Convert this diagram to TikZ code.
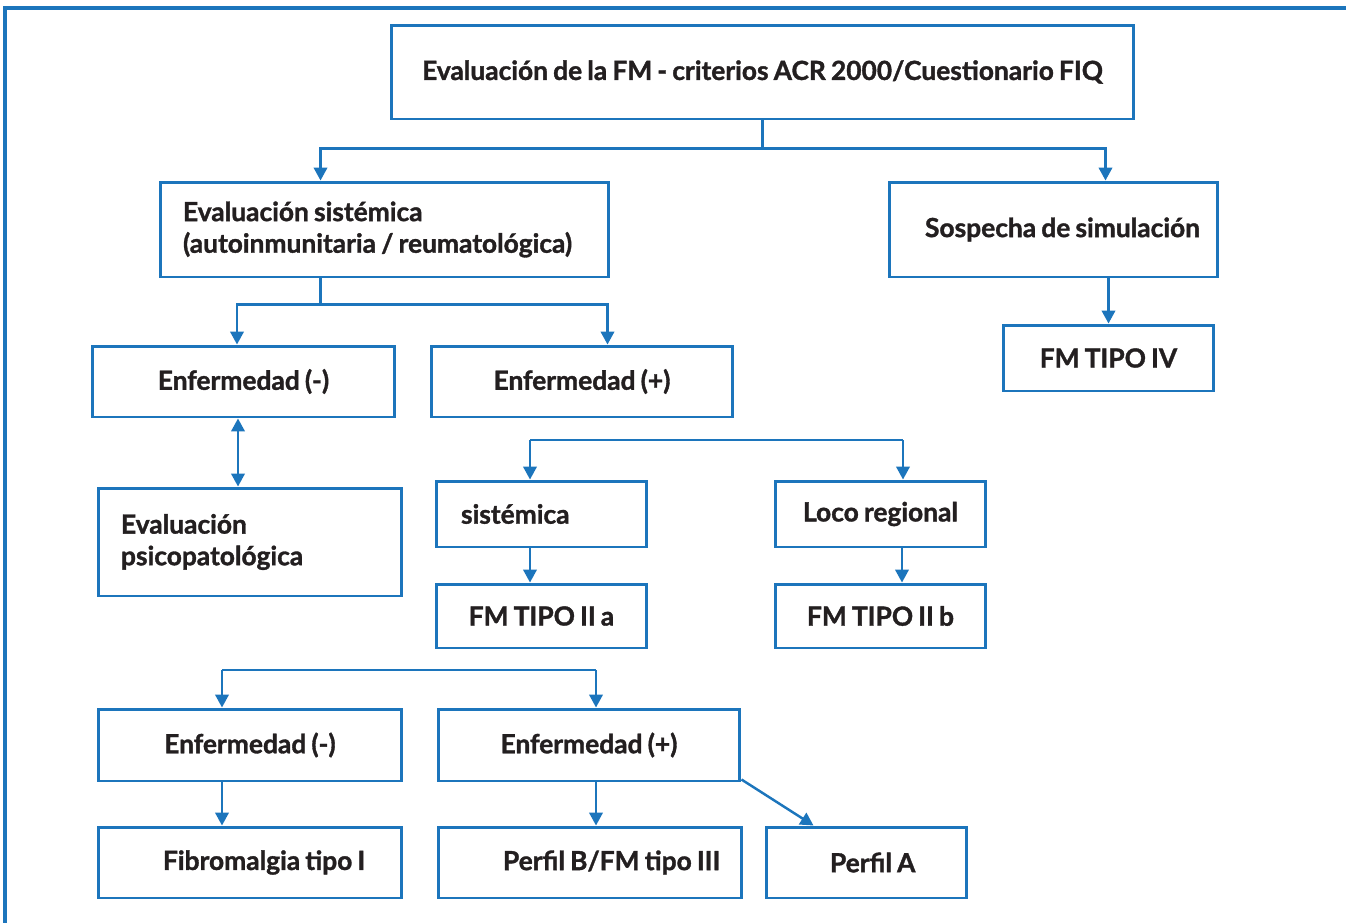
\documentclass[tikz,border=0pt]{standalone}
\usepackage{fontspec}
\setmainfont{Lato}[BoldFeatures={FakeBold=1.3}, WordSpace=0.8]
\usetikzlibrary{arrows.meta,positioning,calc}
\definecolor{fmInk}{HTML}{231F20}
\definecolor{fmBlue}{HTML}{1C75BC}
\tikzset{
  every picture/.style={font=\bfseries\fontsize{15}{18}\selectfont, text=fmInk},
  fm box/.style={draw=fmBlue, line width=1.7pt, fill=white, align=center,
    inner sep=0pt},
  fm left/.style={align=flush left, text width=#1},
  fm flow/.style={-{Triangle[length=2.6mm,width=2.7mm]},
    draw=fmBlue, line width=1.4pt},
  fm line/.style={draw=fmBlue, line width=1.4pt},
  fm frame/.style={draw=fmBlue, line width=1.9pt}
}
\begin{document}
\begin{tikzpicture}[x=0.02cm,y=-0.02cm]
  \useasboundingbox (0,0) rectangle (1346,923);
  \draw[fm frame] (5,923) -- (5,8) -- (1346,8);

  % first level
  \node[fm box, minimum width=14.86cm, minimum height=1.88cm] (acr) at (762.5,72)
    {Evaluación de la FM - criterios ACR 2000/Cuestionario FIQ};
  \node[fm box, minimum width=8.98cm, minimum height=1.9cm, inner xsep=0.46cm,
    fm left=8.06cm] (sist) at (384.5,229.5)
    {Evaluación sistémica\\(autoinmunitaria / reumatológica)};
  \node[fm box, minimum width=6.58cm, minimum height=1.9cm, fm left=6.58cm] (sosp) at (1053.5,229.5)
    {\hspace*{0.72cm}Sospecha de simulación};
  \node[fm box, minimum width=4.22cm, minimum height=1.32cm] (tipoIV) at (1108.5,358)
    {FM TIPO IV};

  % enfermedad
  \node[fm box, minimum width=6.06cm, minimum height=1.42cm] (enfNeg) at (243.5,381.5)
    {Enfermedad (-)};
  \node[fm box, minimum width=6.04cm, minimum height=1.42cm] (enfPos) at (582,381.5)
    {Enfermedad (+)};
  \node[fm box, minimum width=6.08cm, minimum height=2.16cm, inner xsep=0.46cm,
    fm left=5.16cm] (psico) at (250,542)
    {Evaluación\\psicopatológica};
  \node[fm box, minimum width=4.22cm, minimum height=1.32cm, inner xsep=0.5cm,
    fm left=3.22cm] (sistemica) at (541.5,514) {sistémica};
  \node[fm box, minimum width=4.22cm, minimum height=1.32cm] (loco) at (880.5,514)
    {Loco regional};
  \node[fm box, minimum width=4.22cm, minimum height=1.28cm] (tipoIIa) at (541.5,616)
    {FM TIPO II a};
  \node[fm box, minimum width=4.22cm, minimum height=1.28cm] (tipoIIb) at (880.5,616)
    {FM TIPO II b};

  % lower block
  \node[fm box, minimum width=6.08cm, minimum height=1.44cm] (enfNegB) at (250,745)
    {Enfermedad (-)};
  \node[fm box, minimum width=6.04cm, minimum height=1.44cm] (enfPosB) at (589,745)
    {Enfermedad (+)};
  \node[fm box, minimum width=6.08cm, minimum height=1.42cm, fm left=6.08cm] (fibro) at (250,862.5)
    {\hspace*{1.3cm}Fibromalgia tipo I};
  \node[fm box, minimum width=6.08cm, minimum height=1.42cm, fm left=6.08cm] (perfilB) at (590,862.5)
    {\hspace*{1.3cm}Perfil B/FM tipo III};
  \node[fm box, minimum width=4.02cm, minimum height=1.42cm, fm left=4.02cm] (perfilA) at (866.5,862.5)
    {\hspace*{1.28cm}Perfil A};

  % connectors
  \draw[fm line] (acr.south) -- ++(0,28) coordinate (splitTop);
  \draw[fm flow] (splitTop) -| ([xshift=3.24cm]sist.north west);
  \draw[fm flow] (splitTop) -| ([xshift=4.36cm]sosp.north west);
  \draw[fm flow] (tipoIV.north |- sosp.south) -- (tipoIV.north);

  \draw[fm line] ([xshift=3.24cm]sist.south west) -- ++(0,26) coordinate (splitSist);
  \draw[fm flow] (splitSist) -| ([xshift=-0.13cm]enfNeg.north);
  \draw[fm flow] (splitSist) -| ([xshift=3.56cm]enfPos.north west);
  \draw[{Triangle[length=2.6mm,width=2.7mm]}-{Triangle[length=2.6mm,width=2.7mm]}, fm line]
    ([xshift=-0.11cm]enfNeg.south) -- ([xshift=-0.11cm]enfNeg.south |- psico.north);

  \coordinate (forkA) at (530,440);
  \coordinate (forkB) at (903,440);
  \draw[fm line] (forkA) -- (forkB);
  \draw[fm flow] (forkA) -- (forkA |- sistemica.north);
  \draw[fm flow] (forkB) -- (forkB |- loco.north);
  \draw[fm flow] (forkA |- sistemica.south) -- (forkA |- tipoIIa.north);
  \draw[fm flow] ([xshift=-0.02cm]forkB |- loco.south) -- ([xshift=-0.02cm]forkB |- tipoIIb.north);

  \coordinate (forkC) at (222,670);
  \coordinate (forkD) at (596,670);
  \draw[fm line] (forkC) -- (forkD);
  \draw[fm flow] (forkC) -- (forkC |- enfNegB.north);
  \draw[fm flow] (forkD) -- (forkD |- enfPosB.north);
  \draw[fm flow] (forkC |- enfNegB.south) -- (forkC |- fibro.north);
  \draw[fm flow] (forkD |- enfPosB.south) -- (forkD |- perfilB.north);
  \draw[fm flow] ([yshift=0.06cm]enfPosB.south east) -- ([xshift=0.98cm]perfilA.north west);
\end{tikzpicture}
\end{document}
